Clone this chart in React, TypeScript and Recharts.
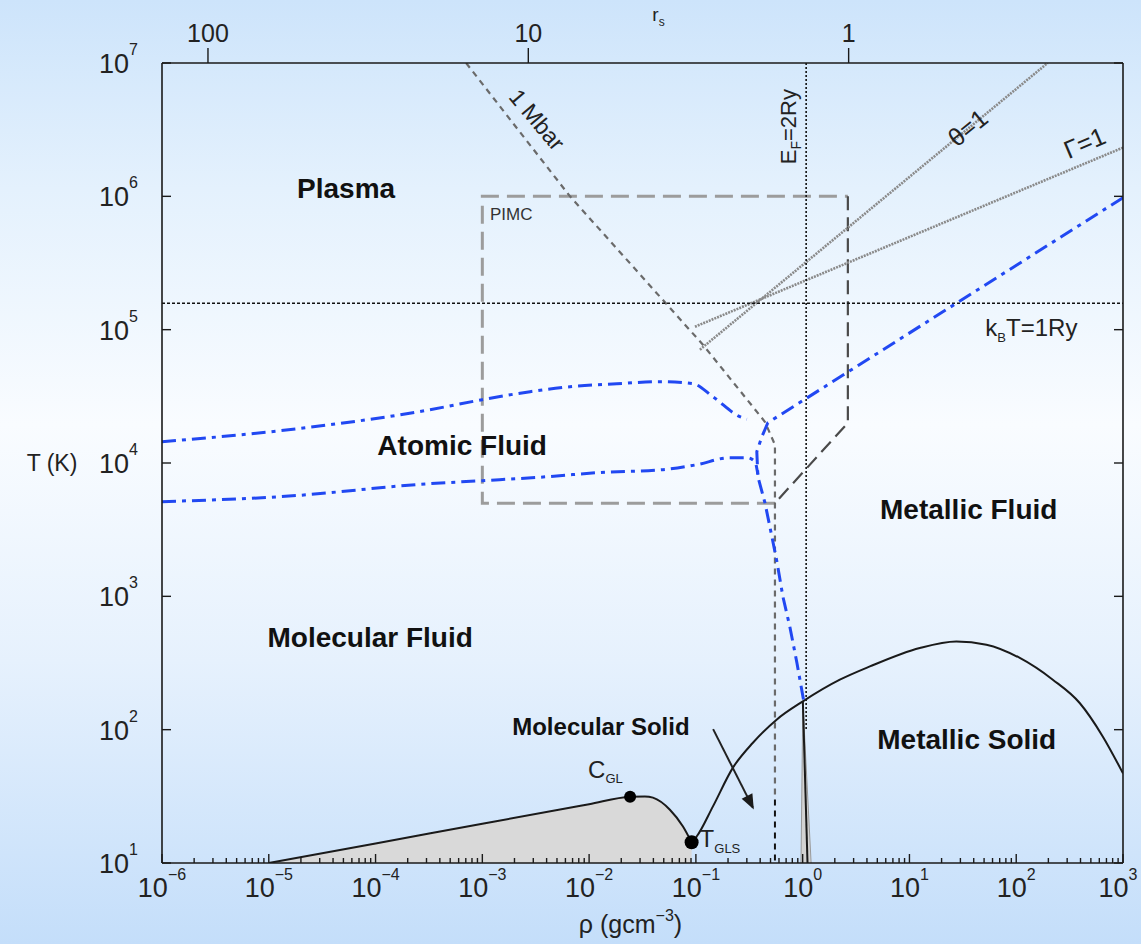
import React from 'react';
import { ComposedChart, Line, Area, Scatter, XAxis, YAxis } from 'recharts';

const FONT = "'Liberation Sans', Arial, Helvetica, sans-serif";

// ---------- axes ----------
const xDecadeExps = [-6, -5, -4, -3, -2, -1, 0, 1, 2, 3];
const xMinorMultipliers = [2, 3, 4, 5, 6, 7, 8, 9];
const yDecadeExps = [1, 2, 3, 4, 5, 6, 7];
const rsTickLabels = [100, 10, 1];
const RHO_AT_RS1 = 2.695; // hydrogen density (g/cm^3) at r_s = 1

// ---------- series ----------
const mbarIsobar = [
  { rho: 7.05e-4, T: 1e7 },
  { rho: 6.62e-3, T: 1e6 },
  { rho: 0.1164, T: 77100 },
  { rho: 0.4426, T: 20400 },
  { rho: 0.55, T: 13700 },
  { rho: 0.55, T: 30 },
];
const mbarLowT = [
  { rho: 0.55, T: 30 },
  { rho: 0.55, T: 10 },
];
const pimcLight = [
  { rho: 0.55, T: 5000 },
  { rho: 1e-3, T: 5000 },
  { rho: 1e-3, T: 1e6 },
  { rho: 2.65, T: 1e6 },
];
const pimcDark = [
  { rho: 2.65, T: 1e6 },
  { rho: 2.65, T: 20000 },
  { rho: 0.55, T: 5000 },
];
const fermiLine = [
  { rho: 1.078, T: 1e7 },
  { rho: 1.078, T: 100 },
];
const rydbergLine = [
  { rho: 1e-6, T: 157887 },
  { rho: 1000, T: 157887 },
];
const thetaLine = [
  { rho: 0.109, T: 70800 },
  { rho: 197, T: 1e7 },
];
const gammaLine = [
  { rho: 0.098, T: 105200 },
  { rho: 1000, T: 2.32e6 },
];
const blueUpper = [
  { rho: 1e-6, T: 14450 },
  { rho: 1.28e-5, T: 17470 },
  { rho: 3.24e-4, T: 25100 },
  { rho: 1.0e-3, T: 29850 },
  { rho: 2.8e-3, T: 34270 },
  { rho: 6.62e-3, T: 37350 },
  { rho: 1.82e-2, T: 39350 },
  { rho: 4.61e-2, T: 40740 },
  { rho: 9.38e-2, T: 39350 },
  { rho: 0.1445, T: 31420 },
  { rho: 0.258, T: 22250 },
  { rho: 0.3, T: 21300 },
];
const blueLower = [
  { rho: 1e-6, T: 5130 },
  { rho: 1.28e-5, T: 5590 },
  { rho: 3.24e-4, T: 7000 },
  { rho: 1.0e-3, T: 7370 },
  { rho: 4.04e-3, T: 7890 },
  { rho: 1.19e-2, T: 8460 },
  { rho: 4.92e-2, T: 8910 },
  { rho: 0.102, T: 9710 },
  { rho: 0.2085, T: 10960 },
  { rho: 0.3006, T: 10960 },
  { rho: 0.357, T: 10230 },
  { rho: 0.381, T: 8170 },
];
const blueMetal = [
  { rho: 1000, T: 977000 },
  { rho: 0.472, T: 20050 },
  { rho: 0.415, T: 15740 },
  { rho: 0.372, T: 12160 },
  { rho: 0.381, T: 7890 },
  { rho: 0.443, T: 5040 },
  { rho: 0.493, T: 3330 },
  { rho: 0.574, T: 1820 },
  { rho: 0.653, T: 994 },
  { rho: 0.758, T: 592 },
  { rho: 0.883, T: 318 },
  { rho: 1.026, T: 162 },
];
const gasLiquid = [
  { rho: 1e-5, T: 10 },
  { rho: 1e-4, T: 14.0 },
  { rho: 1e-3, T: 19.7 },
  { rho: 1e-2, T: 27.6 },
  { rho: 0.0242, T: 31.4 },
  { rho: 0.0333, T: 31.6 },
  { rho: 0.0396, T: 30.9 },
  { rho: 0.0571, T: 25.1 },
  { rho: 0.0757, T: 18.8 },
  { rho: 0.0912, T: 14.3 },
];
const meltingLine = [
  { rho: 0.0912, T: 14.3 },
  { rho: 0.1016, T: 15.8 },
  { rho: 0.1445, T: 26.6 },
  { rho: 0.2223, T: 51.9 },
  { rho: 0.342, T: 79.8 },
  { rho: 0.57, T: 118.9 },
  { rho: 1.004, T: 163 },
  { rho: 2.23, T: 237 },
  { rho: 4.26, T: 298 },
  { rho: 12.5, T: 410 },
  { rho: 27.5, T: 459 },
  { rho: 52.6, T: 434 },
  { rho: 108, T: 345 },
  { rho: 220, T: 237 },
  { rho: 393, T: 158.5 },
  { rho: 646, T: 89 },
  { rho: 1000, T: 47 },
];
const solidSpikeFill = [
  { rho: 0.965, T: 10 },
  { rho: 1.004, T: 163 },
  { rho: 1.2, T: 10 },
];
const solidSpikeLine = [
  { rho: 1.004, T: 163 },
  { rho: 1.11, T: 10 },
];
const arrowLine = [
  { rho: 0.145, T: 101 },
  { rho: 0.342, T: 26 },
];
const criticalPoint = [{ rho: 0.0242, T: 31.4 }];
const triplePoint = [{ rho: 0.0912, T: 14.3 }];

// ---------- annotations (data coordinates) ----------
const regionLabels = [
  { rho: 5.3e-5, T: 1.16e6, text: 'Plasma' },
  { rho: 6.47e-4, T: 13500, text: 'Atomic Fluid' },
  { rho: 35.9, T: 4540, text: 'Metallic Fluid' },
  { rho: 8.9e-5, T: 498, text: 'Molecular Fluid' },
  { rho: 0.0129, T: 105, text: 'Molecular Solid' },
  { rho: 34.4, T: 84.1, text: 'Metallic Solid' },
];
const pimcLabel = [{ rho: 1.18e-3, T: 7.41e5 }];
const mbarLabel = [{ rho: 3.25e-3, T: 3.76e6 }];
const fermiLabel = [{ rho: 0.727, T: 3.33e6 }];
const thetaLabel = [{ rho: 35.2, T: 3.27e6 }];
const gammaLabel = [{ rho: 437, T: 2.52e6 }];
const rydbergLabel = [{ rho: 51.4, T: 1.035e5 }];

// ---------- derived ticks ----------
const xTicks: number[] = [];
xDecadeExps.forEach((e, i) => {
  xTicks.push(Math.pow(10, e));
  if (i < xDecadeExps.length - 1) xMinorMultipliers.forEach((m) => xTicks.push(m * Math.pow(10, e)));
});
const yTicks = yDecadeExps.map((e) => Math.pow(10, e));
const topTicks = rsTickLabels.map((rs) => RHO_AT_RS1 / (rs * rs * rs));

const AX = '#1a1a1a';
const BLUE = '#2148f2';

const exp = (e: number) => (e < 0 ? `\u2212${-e}` : `${e}`);

const BottomTick = (p: any) => {
  const v = p.payload.value;
  const lg = Math.log10(v);
  const e = Math.round(lg);
  const major = Math.abs(lg - e) < 1e-6;
  const last = e === xDecadeExps[xDecadeExps.length - 1];
  return (
    <g>
      <line x1={p.x} x2={p.x} y1={p.y} y2={p.y - (major ? 9 : 5)} stroke={AX} strokeWidth={1.4} />
      {major && (
        <text x={p.x - (last ? 5 : 0)} y={p.y + 34} textAnchor="middle" fontFamily={FONT} fontSize={27} fill="#222">
          10
          <tspan dy={-17} fontSize={16}>
            {exp(e)}
          </tspan>
        </text>
      )}
    </g>
  );
};

const LeftTick = (p: any) => {
  const e = Math.round(Math.log10(p.payload.value));
  return (
    <g>
      <line x1={p.x} x2={p.x + 9} y1={p.y} y2={p.y} stroke={AX} strokeWidth={1.4} />
      <text x={p.x - 24} y={p.y + 10} textAnchor="end" fontFamily={FONT} fontSize={27} fill="#222">
        10
        <tspan dy={-18} fontSize={16}>
          {exp(e)}
        </tspan>
      </text>
    </g>
  );
};

const RightTick = (p: any) => (
  <line x1={p.x} x2={p.x - 9} y1={p.y} y2={p.y} stroke={AX} strokeWidth={1.4} />
);

const TopTick = (p: any) => (
  <g>
    <line x1={p.x} x2={p.x} y1={p.y} y2={p.y - 15} stroke={AX} strokeWidth={1.4} />
    <text x={p.x} y={p.y - 21} textAnchor="middle" fontFamily={FONT} fontSize={25} fill="#222">
      {rsTickLabels[p.index]}
    </text>
  </g>
);

const XLabel = (p: any) => {
  const vb = p.viewBox;
  return (
    <text x={vb.x + vb.width / 2 - 12} y={vb.y + 70} textAnchor="middle" fontFamily={FONT} fontSize={25} fill="#222">
      ρ (gcm
      <tspan dy={-12} fontSize={16}>
        {'\u22123'}
      </tspan>
      <tspan dy={12}>)</tspan>
    </text>
  );
};

const TopLabel = (p: any) => {
  const vb = p.viewBox;
  return (
    <text x={vb.x + vb.width / 2 + 16} y={vb.y + 21} textAnchor="middle" fontFamily={FONT} fontSize={19} fill="#222">
      r
      <tspan dy={5} fontSize={12}>
        s
      </tspan>
    </text>
  );
};

const YLabel = (p: any) => {
  const vb = p.viewBox;
  return (
    <text x={vb.x + 52} y={vb.y + vb.height / 2 + 8} textAnchor="middle" fontFamily={FONT} fontSize={23} fill="#222">
      T (K)
    </text>
  );
};

const regionShape = (p: any) => (
  <text
    x={p.cx}
    y={p.cy}
    dy="0.35em"
    textAnchor="middle"
    fontFamily={FONT}
    fontWeight="bold"
    fontSize={p.payload.text === 'Molecular Solid' ? 24 : 28}
    fill="#111"
  >
    {p.payload.text}
  </text>
);

const pimcShape = (p: any) => (
  <text x={p.cx} y={p.cy} dy="0.35em" textAnchor="start" fontFamily={FONT} fontSize={17} fill="#333">
    PIMC
  </text>
);

const rotatedText = (content: React.ReactNode, angle: number, size: number) => (p: any) => (
  <text
    x={p.cx}
    y={p.cy}
    dy="0.35em"
    textAnchor="middle"
    fontFamily={FONT}
    fontSize={size}
    fill="#222"
    transform={`rotate(${angle}, ${p.cx}, ${p.cy})`}
  >
    {content}
  </text>
);

const mbarShape = rotatedText('1 Mbar', 50, 23);
const thetaShape = rotatedText('θ=1', -39, 25);
const gammaShape = rotatedText('Γ=1', -23, 25);
const fermiShape = rotatedText(
  <>
    E<tspan dy={5} fontSize={14}>F</tspan>
    <tspan dy={-5}>=2Ry</tspan>
  </>,
  -90,
  22
);

const rydbergShape = (p: any) => (
  <text x={p.cx} y={p.cy} dy="0.35em" textAnchor="start" fontFamily={FONT} fontSize={24} fill="#222">
    k<tspan dy={6} fontSize={13}>B</tspan>
    <tspan dy={-6}>T=1Ry</tspan>
  </text>
);

const criticalShape = (p: any) => (
  <g>
    <circle cx={p.cx} cy={p.cy} r={6} fill="#000" />
    <text x={p.cx - 42} y={p.cy - 19} fontFamily={FONT} fontSize={24} fill="#222">
      C<tspan dy={5} fontSize={13}>GL</tspan>
    </text>
  </g>
);

const tripleShape = (p: any) => (
  <g>
    <circle cx={p.cx} cy={p.cy} r={7} fill="#000" />
    <text x={p.cx + 8} y={p.cy + 5} fontFamily={FONT} fontSize={24} fill="#222">
      T<tspan dy={6} fontSize={13}>GLS</tspan>
    </text>
  </g>
);

const ArrowDot = (p: any) => {
  if (p.index !== arrowLine.length - 1) return <g key={p.key} />;
  let ang = 64;
  const pts = p.points;
  if (pts && pts.length > 1) {
    const a = pts[pts.length - 2];
    const b = pts[pts.length - 1];
    ang = (Math.atan2(b.y - a.y, b.x - a.x) * 180) / Math.PI;
  }
  return (
    <polygon
      key={p.key}
      points="2,0 -13,-6 -13,6"
      transform={`translate(${p.cx},${p.cy}) rotate(${ang})`}
      fill="#1a1a1a"
    />
  );
};

const common = { xAxisId: 'bottom', yAxisId: 'left', dataKey: 'T', isAnimationActive: false } as const;

export default function App() {
  return (
    <div
      style={{
        position: 'absolute',
        left: 0,
        top: 0,
        width: 1141,
        height: 944,
        background: 'linear-gradient(to bottom, #cde4fb 0%, #e4f1fd 20%, #f9fcff 45%, #e6f1fd 70%, #c4defa 100%)',
        overflow: 'hidden',
      }}
    >
      <ComposedChart width={1141} height={944} margin={{ top: 0, right: 0, bottom: 0, left: 0 }}>
        <XAxis
          xAxisId="bottom"
          dataKey="rho"
          type="number"
          scale="log"
          domain={[1e-6, 1e3]}
          allowDataOverflow
          ticks={xTicks}
          interval={0}
          tick={(p: any) => <BottomTick {...p} />}
          tickLine={false}
          tickSize={0}
          tickMargin={0}
          height={81}
          axisLine={{ stroke: AX, strokeWidth: 1.6 }}
          label={(p: any) => <XLabel {...p} />}
        />
        <XAxis
          xAxisId="top"
          orientation="top"
          dataKey="rho"
          type="number"
          scale="log"
          domain={[1e-6, 1e3]}
          allowDataOverflow
          ticks={topTicks}
          interval={0}
          tick={(p: any) => <TopTick {...p} />}
          tickLine={false}
          tickSize={0}
          tickMargin={0}
          height={63}
          axisLine={{ stroke: AX, strokeWidth: 1.6 }}
          label={(p: any) => <TopLabel {...p} />}
        />
        <YAxis
          yAxisId="left"
          type="number"
          scale="log"
          domain={[10, 1e7]}
          allowDataOverflow
          ticks={yTicks}
          interval={0}
          tick={(p: any) => <LeftTick {...p} />}
          tickLine={false}
          tickSize={0}
          tickMargin={0}
          width={162}
          axisLine={{ stroke: AX, strokeWidth: 1.6 }}
          label={(p: any) => <YLabel {...p} />}
        />
        <YAxis
          yAxisId="right"
          orientation="right"
          type="number"
          scale="log"
          domain={[10, 1e7]}
          allowDataOverflow
          ticks={yTicks}
          interval={0}
          tick={(p: any) => <RightTick {...p} />}
          tickLine={false}
          tickSize={0}
          tickMargin={0}
          width={18}
          axisLine={{ stroke: AX, strokeWidth: 1.6 }}
        />

        {/* hidden series binding the top and right axes */}
        <Line xAxisId="top" yAxisId="right" dataKey="T" data={rydbergLine} stroke="none" dot={false} activeDot={false} isAnimationActive={false} />

        <Area {...common} data={gasLiquid} type="monotone" baseValue={10} fill="#d9d9d9" fillOpacity={1} stroke={AX} strokeWidth={2} />
        <Area {...common} data={solidSpikeFill} type="linear" baseValue={10} fill="#d2d2d2" fillOpacity={1} stroke="#9a9a9a" strokeWidth={1} />

        <Line {...common} data={pimcLight} type="linear" stroke="#9c9c9c" strokeWidth={3} strokeDasharray="18 8" dot={false} activeDot={false} />
        <Line {...common} data={pimcDark} type="linear" stroke="#4a4a4a" strokeWidth={2.2} strokeDasharray="14 7" dot={false} activeDot={false} />
        <Line {...common} data={mbarIsobar} type="linear" stroke="#6a6a6a" strokeWidth={2.2} strokeDasharray="6 5" dot={false} activeDot={false} />
        <Line {...common} data={mbarLowT} type="linear" stroke="#111" strokeWidth={2} strokeDasharray="6 5" dot={false} activeDot={false} />
        <Line {...common} data={thetaLine} type="linear" stroke="#8a8a8a" strokeWidth={2.6} strokeDasharray="2 1" dot={false} activeDot={false} />
        <Line {...common} data={gammaLine} type="linear" stroke="#8a8a8a" strokeWidth={2.6} strokeDasharray="2 1" dot={false} activeDot={false} />
        <Line {...common} data={fermiLine} type="linear" stroke="#111" strokeWidth={1.6} strokeDasharray="2 2" dot={false} activeDot={false} />
        <Line {...common} data={rydbergLine} type="linear" stroke="#111" strokeWidth={1.6} strokeDasharray="3 2" dot={false} activeDot={false} />

        <Line {...common} data={meltingLine} type="monotone" stroke={AX} strokeWidth={2} dot={false} activeDot={false} />
        <Line {...common} data={solidSpikeLine} type="linear" stroke={AX} strokeWidth={2} dot={false} activeDot={false} />
        <Line {...common} data={arrowLine} type="linear" stroke="#222" strokeWidth={2} dot={(p: any) => <ArrowDot {...p} />} activeDot={false} />

        <Line {...common} data={blueUpper} type="monotone" stroke={BLUE} strokeWidth={3} strokeDasharray="14 6 4 6" dot={false} activeDot={false} />
        <Line {...common} data={blueLower} type="monotone" stroke={BLUE} strokeWidth={3} strokeDasharray="14 6 4 6" dot={false} activeDot={false} />
        <Line {...common} data={blueMetal} type="linear" stroke={BLUE} strokeWidth={3} strokeDasharray="14 6 4 6" dot={false} activeDot={false} />

        <Scatter {...common} data={criticalPoint} shape={criticalShape} />
        <Scatter {...common} data={triplePoint} shape={tripleShape} />
        <Scatter {...common} data={regionLabels} shape={regionShape} />
        <Scatter {...common} data={pimcLabel} shape={pimcShape} />
        <Scatter {...common} data={mbarLabel} shape={mbarShape} />
        <Scatter {...common} data={fermiLabel} shape={fermiShape} />
        <Scatter {...common} data={thetaLabel} shape={thetaShape} />
        <Scatter {...common} data={gammaLabel} shape={gammaShape} />
        <Scatter {...common} data={rydbergLabel} shape={rydbergShape} />
      </ComposedChart>
    </div>
  );
}
